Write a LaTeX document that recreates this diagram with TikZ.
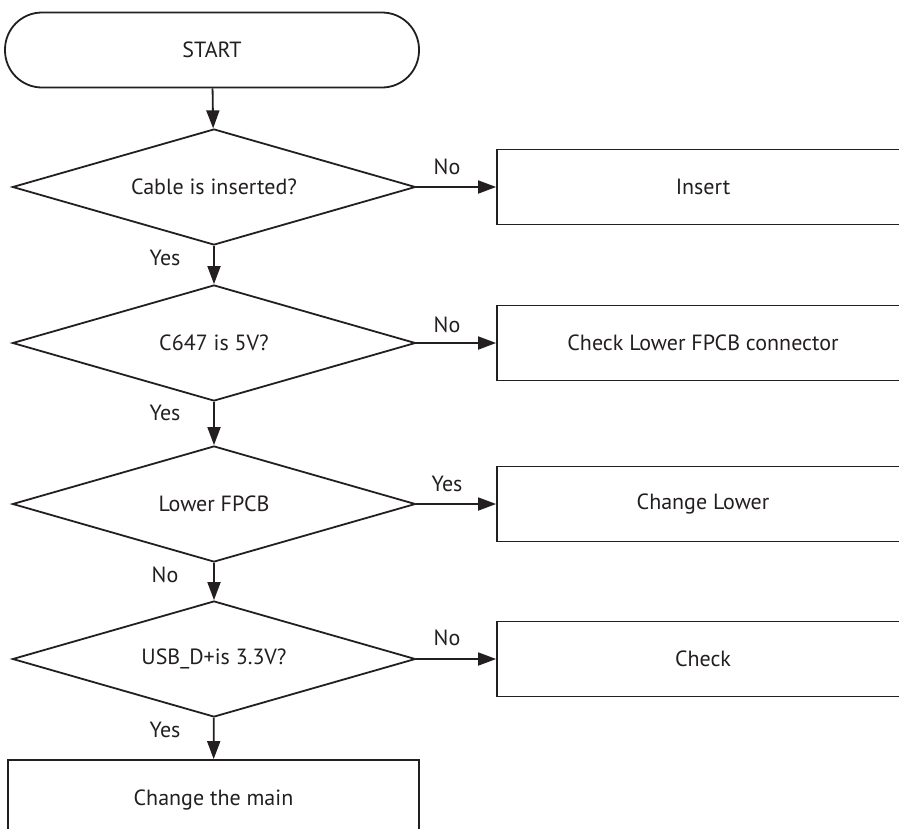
\documentclass[tikz,border=0pt]{standalone}
\usepackage{fontspec}
\setmainfont{PT Sans}
\usetikzlibrary{shapes.geometric,arrows.meta}
\definecolor{ink}{HTML}{231F20}
\begin{document}
\begin{tikzpicture}[x=1pt,y=-1pt,line width=1.8pt,draw=ink,
  every node/.style={font=\fontsize{22}{24}\selectfont,text=ink},
  decision/.style={diamond,aspect=3.47,draw=ink,inner sep=0pt,minimum width=403pt,minimum height=116pt},
  action/.style={rectangle,draw=ink,inner sep=0pt,minimum width=412pt,minimum height=75pt},
  terminal/.style={rectangle,draw=ink,rounded corners=37pt,inner sep=0pt,minimum width=414pt,minimum height=75pt},
  flow/.style={draw=ink,-{Triangle[length=18pt,width=13pt]}},
  lbl/.style={inner sep=0pt}]
\useasboundingbox (0,0) rectangle (899,828);
\clip (0,0) rectangle (899,828);

% main column
\node[terminal] (start) at (212,50) {START};
\node[decision] (d1) at (214,187) {Cable is inserted?};
\node[decision] (d2) at (214,343) {C647 is 5V?};
\node[decision] (d3) at (214,504) {Lower FPCB};
\node[decision] (d4) at (214,659) {USB\_D+is 3.3V?};
\node[action,minimum width=411pt,minimum height=80pt] (main) at (213.5,800) {Change the main};

% side actions
\node[action] (b1) at (703,187) {Insert};
\node[action] (b2) at (703,343) {Check Lower FPCB connector};
\node[action] (b3) at (703,504) {Change Lower};
\node[action] (b4) at (703,659) {Check};

% vertical flow
\draw[flow] (start) -- (d1);
\draw[flow] (d1) -- (d2);
\draw[flow] (d2) -- (d3);
\draw[flow] (d3) -- (d4);
\draw[flow] (d4) -- (main);

% branches
\draw[flow] (d1.east) -- (b1.west);
\draw[flow] (d2.east) -- (b2.west);
\draw[flow] (d3.east) -- (b3.west);
\draw[flow] (d4.east) -- (b4.west);

% branch labels
\node[lbl] (l1) at (165,258) {Yes};
\node[lbl] (l2) at (165,413) {Yes};
\node[lbl] (l3) at (165,575) {No};
\node[lbl] (l4) at (165,730) {Yes};
\node[lbl] (r1) at (447,167) {No};
\node[lbl] (r2) at (447,325) {No};
\node[lbl] (r3) at (447,484) {Yes};
\node[lbl] (r4) at (447,638) {No};
\end{tikzpicture}
\end{document}
